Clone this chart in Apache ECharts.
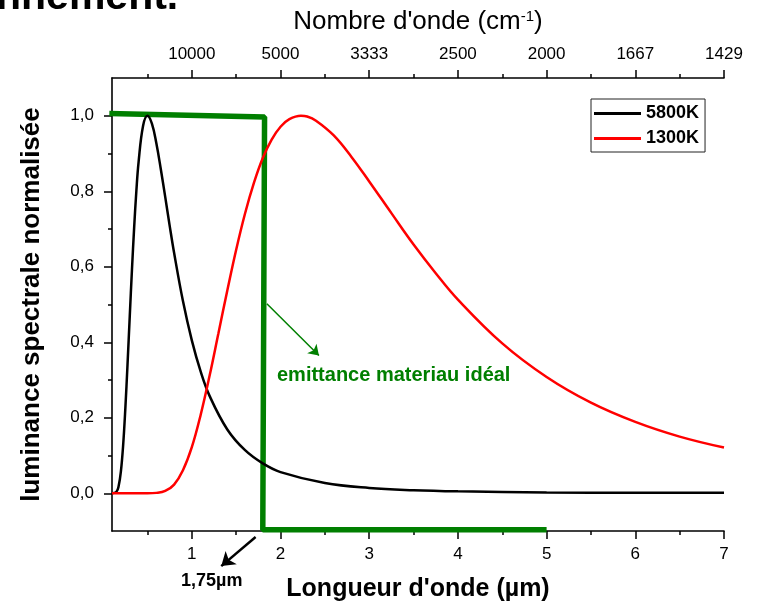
<!DOCTYPE html>
<html>
<head>
<meta charset="utf-8">
<script src="https://cdn.jsdelivr.net/npm/echarts@6/dist/echarts.min.js"></script>
<style>
html,body{margin:0;padding:0;background:#fff;}
#chart{width:759px;height:607px;}
</style>
</head>
<body>
<div id="chart"></div>
<script>
// ---- data ----
const lambda5800 = [0.1,0.15,0.175,0.2,0.225,0.25,0.275,0.3,0.325,0.35,0.375,0.4,0.45,0.5,0.55,0.6,0.65,0.7,0.75,0.8,0.9,1.0,1.1,1.2,1.4,1.6,1.8,2.0,2.5,3.0,3.5,4.0,5.0,6.0,7.0];
const lum5800 = [0.000,0.004,0.019,0.057,0.125,0.223,0.341,0.468,0.592,0.705,0.802,0.878,0.973,1.000,0.979,0.927,0.859,0.785,0.709,0.637,0.509,0.405,0.322,0.258,0.169,0.114,0.079,0.056,0.027,0.014,0.008,0.005,0.002,0.001,0.001];

const lambda1300 = [0.1,0.3,0.5,0.6,0.7,0.8,0.9,1.0,1.1,1.2,1.3,1.4,1.5,1.6,1.7,1.8,1.9,2.0,2.1,2.23,2.3,2.4,2.6,2.8,3.0,3.25,3.5,3.75,4.0,4.5,5.0,5.5,6.0,6.5,7.0];
const lum1300 = [0,0,0,0.001,0.006,0.023,0.061,0.122,0.208,0.311,0.424,0.537,0.645,0.741,0.822,0.888,0.937,0.971,0.991,1.000,0.998,0.987,0.948,0.891,0.826,0.742,0.659,0.583,0.513,0.397,0.308,0.240,0.189,0.150,0.121];

const lambdaIdeal = [0.07,1.82,1.80,5.0];
const emitIdeal = [1.006,0.997,-0.097,-0.097];

const xTicks = [1,2,3,4,5,6,7];
const xMinorTicks = [0.5,1.5,2.5,3.5,4.5,5.5,6.5];
const wavenumberLabels = ['10000','5000','3333','2500','2000','1667','1429'];
const yTicks = [0,0.2,0.4,0.6,0.8,1.0];
const yMinorTicks = [0.1,0.3,0.5,0.7,0.9];

const seriesNames = ['5800K','1300K'];
const idealLabel = 'emittance materiau idéal';
const cutLabel = '1,75µm';

// annotation arrows (data coordinates)
const idealArrow = [[1.846,0.502],[2.433,0.365]];
const cutArrow = [[1.719,-0.116],[1.332,-0.193]];

const FONT = '"Liberation Sans", Arial, sans-serif';
const zip = (xs, ys) => xs.map((x, i) => [x, ys[i]]);

const chart = echarts.init(document.getElementById('chart'), null, {renderer: 'canvas'});

const axisBase = {
  type: 'value', min: 0.1, max: 7,
  splitLine: {show: false}
};

const option = {
  animation: false,
  backgroundColor: '#fff',
  grid: {left: 112, right: 35, top: 78, bottom: 74},
  legend: {
    data: seriesNames,
    orient: 'vertical',
    left: 591, top: 99,
    icon: 'rect',
    itemWidth: 47, itemHeight: 3,
    itemGap: 6,
    padding: [5, 6, 4, 3],
    borderColor: '#222', borderWidth: 1,
    textStyle: {fontFamily: FONT, fontWeight: 'bold', fontSize: 18, color: '#000', lineHeight: 19},
    selectedMode: false
  },
  xAxis: [
    Object.assign({}, axisBase, {
      position: 'bottom',
      axisLine: {show: true, onZero: false, lineStyle: {color: '#000', width: 1.6}},
      axisTick: {show: true, customValues: xTicks, length: 8, lineStyle: {color: '#000', width: 1.5}},
      axisLabel: {show: true, customValues: xTicks, margin: 15, fontSize: 17, fontFamily: FONT, color: '#000'},
      name: "Longueur d'onde (µm)",
      nameLocation: 'middle', nameGap: 46,
      nameTextStyle: {fontFamily: FONT, fontWeight: 'bold', fontSize: 25, color: '#000'}
    }),
    Object.assign({}, axisBase, {
      position: 'bottom',
      axisLine: {show: false, onZero: false},
      axisTick: {show: true, customValues: xMinorTicks, length: 4, lineStyle: {color: '#000', width: 1.5}},
      axisLabel: {show: false}
    }),
    Object.assign({}, axisBase, {
      position: 'top',
      axisLine: {show: true, onZero: false, lineStyle: {color: '#000', width: 1.6}},
      axisTick: {show: true, customValues: xTicks, length: 8, lineStyle: {color: '#000', width: 1.5}},
      axisLabel: {
        show: true, customValues: xTicks, margin: 15, fontSize: 17, fontFamily: FONT, color: '#000',
        formatter: v => wavenumberLabels[xTicks.indexOf(Math.round(v))]
      },
      name: "Nombre d'onde (cm{sup|-1})",
      nameLocation: 'middle', nameGap: 43,
      nameTextStyle: {
        fontFamily: FONT, fontSize: 26, color: '#000',
        rich: {sup: {fontFamily: FONT, fontSize: 15, color: '#000', verticalAlign: 'top'}}
      }
    }),
    Object.assign({}, axisBase, {
      position: 'top',
      axisLine: {show: false, onZero: false},
      axisTick: {show: true, customValues: xMinorTicks, length: 4, lineStyle: {color: '#000', width: 1.5}},
      axisLabel: {show: false}
    })
  ],
  yAxis: [
    {
      type: 'value', min: -0.1, max: 1.1, position: 'left',
      splitLine: {show: false},
      axisLine: {show: true, onZero: false, lineStyle: {color: '#000', width: 1.6}},
      axisTick: {show: true, customValues: yTicks, length: 8, lineStyle: {color: '#000', width: 1.5}},
      axisLabel: {
        show: true, customValues: yTicks, margin: 18, fontSize: 17, fontFamily: FONT, color: '#000',
        formatter: v => v.toFixed(1).replace('.', ',')
      },
      name: 'luminance spectrale normalisée',
      nameLocation: 'middle', nameGap: 67, nameRotate: 90,
      nameTextStyle: {fontFamily: FONT, fontWeight: 'bold', fontSize: 26, color: '#000'}
    },
    {
      type: 'value', min: -0.1, max: 1.1, position: 'left',
      splitLine: {show: false},
      axisLine: {show: false, onZero: false},
      axisTick: {show: true, customValues: yMinorTicks, length: 4, lineStyle: {color: '#000', width: 1.5}},
      axisLabel: {show: false}
    }
  ],
  series: [
    {
      name: 'emittance', type: 'line', xAxisIndex: 0, yAxisIndex: 0,
      data: zip(lambdaIdeal, emitIdeal),
      showSymbol: false, clip: false, silent: true, z: 3,
      lineStyle: {color: '#007f00', width: 5.5},
      itemStyle: {color: '#007f00'},
      markLine: {
        silent: true, symbol: ['none', 'arrow'], symbolSize: 10,
        label: {show: false},
        lineStyle: {color: '#007f00', width: 1.5, type: 'solid'},
        data: [[{coord: idealArrow[0]}, {coord: idealArrow[1]}]]
      }
    },
    {
      name: seriesNames[0], type: 'line', xAxisIndex: 0, yAxisIndex: 0,
      data: zip(lambda5800, lum5800),
      showSymbol: false, smooth: 0.4, clip: false, z: 4,
      lineStyle: {color: '#000', width: 2.5},
      itemStyle: {color: '#000'}
    },
    {
      name: seriesNames[1], type: 'line', xAxisIndex: 0, yAxisIndex: 0,
      data: zip(lambda1300, lum1300),
      showSymbol: false, smooth: 0.4, clip: false, z: 4,
      lineStyle: {color: '#ff0000', width: 2.5},
      itemStyle: {color: '#ff0000'}
    }
  ],
  graphic: [
    {type: 'text', left: -4, top: -23, silent: true,
     style: {text: 'nnement.', fill: '#000', font: 'bold 41px ' + FONT}},
    {type: 'text', left: 277, top: 365, silent: true,
     style: {text: idealLabel, fill: '#007f00', font: 'bold 20px ' + FONT}},
    {type: 'text', left: 181, top: 572, silent: true,
     style: {text: cutLabel, fill: '#000', font: 'bold 18px ' + FONT}}
  ]
};
chart.setOption(option);

// The 1,75µm arrow lies outside the plotting range, so place it through the axis scales.
const p0 = chart.convertToPixel({xAxisIndex: 0, yAxisIndex: 0}, cutArrow[0]);
const p1 = chart.convertToPixel({xAxisIndex: 0, yAxisIndex: 0}, cutArrow[1]);
chart.setOption({
  series: [{}, {
    markLine: {
      silent: true, symbol: ['none', 'arrow'], symbolSize: 13,
      label: {show: false},
      lineStyle: {color: '#000', width: 2.5, type: 'solid'},
      data: [[{x: p0[0], y: p0[1]}, {x: p1[0], y: p1[1]}]]
    }
  }]
});
</script>
</body>
</html>
